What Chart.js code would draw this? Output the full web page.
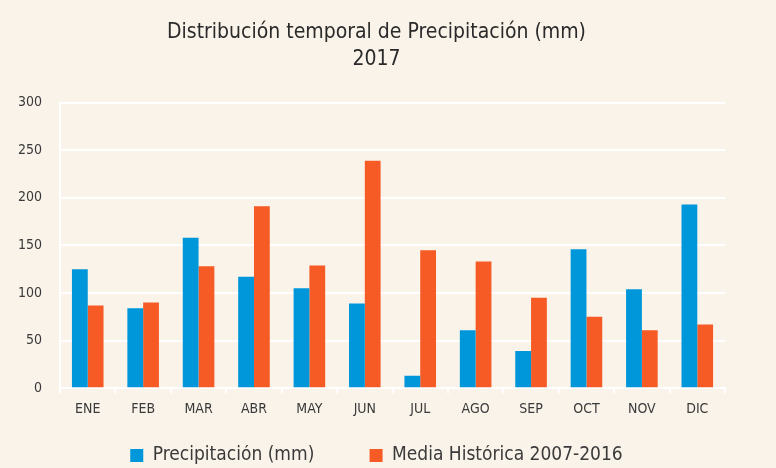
<!DOCTYPE html>
<html>
<head>
<meta charset="utf-8">
<script src="https://cdn.jsdelivr.net/npm/chart.js@4"></script>
<style>
  html, body { margin: 0; padding: 0; background: #faf3ea; }
  #wrap { width: 776px; height: 468px; position: relative; }
</style>
</head>
<body>
<div id="wrap"><canvas id="chart"></canvas></div>
<script>
// Datos
const meses = ['ENE', 'FEB', 'MAR', 'ABR', 'MAY', 'JUN', 'JUL', 'AGO', 'SEP', 'OCT', 'NOV', 'DIC'];
const precipitacion = [125, 84, 158, 117, 105, 89, 13, 61, 39, 146, 104, 193];
const mediaHistorica = [87, 90, 128, 191, 129, 239, 145, 133, 95, 75, 61, 67];
const ticksY = [0, 50, 100, 150, 200, 250, 300];

const fuente = "'Liberation Sans Narrow', 'DejaVu Sans Condensed', sans-serif";
const colorTexto = '#3a3a3a';

new Chart(document.getElementById('chart'), {
  type: 'bar',
  data: {
    labels: meses,
    datasets: [
      {
        label: 'Precipitación (mm)',
        data: precipitacion,
        backgroundColor: '#0096da',
        borderWidth: 0,
        categoryPercentage: 0.57,
        barPercentage: 1.0
      },
      {
        label: 'Media Histórica 2007-2016',
        data: mediaHistorica,
        backgroundColor: '#f65b25',
        borderWidth: 0,
        categoryPercentage: 0.57,
        barPercentage: 1.0
      }
    ]
  },
  options: {
    responsive: true,
    maintainAspectRatio: false,
    animation: false,
    layout: { padding: { left: 0, right: 23, top: 3, bottom: -7 } },
    scales: {
      x: {
        ticks: {
          font: { family: fuente, size: 14 },
          color: colorTexto,
          padding: 8
        },
        grid: {
          drawOnChartArea: false,
          color: '#ffffff',
          lineWidth: 2,
          tickLength: 5
        },
        border: { color: '#ffffff', width: 2 },
        // espacio extra entre las etiquetas y la leyenda
        afterFit: scale => { scale.height += 19; }
      },
      y: {
        min: 0,
        max: 300,
        afterBuildTicks: axis => { axis.ticks = ticksY.map(v => ({ value: v })); },
        ticks: {
          font: { family: fuente, size: 14 },
          color: colorTexto,
          padding: 18
        },
        grid: {
          color: '#ffffff',
          lineWidth: 2,
          tickLength: 0
        },
        border: { color: '#ffffff', width: 2 }
      },
      // eje vacío a la derecha, solo para dejar margen
      margen: {
        position: 'right',
        grid: { display: false },
        border: { display: false },
        ticks: { display: false },
        afterFit: scale => { scale.width = 28; }
      }
    },
    plugins: {
      title: {
        display: true,
        text: ['Distribución temporal de Precipitación (mm)', '2017'],
        font: { family: fuente, size: 21, weight: 'normal', lineHeight: 1.3 },
        color: '#2a2a2a',
        padding: { top: 16, bottom: 29 }
      },
      legend: {
        position: 'bottom',
        labels: {
          font: { family: fuente, size: 19 },
          color: colorTexto,
          boxWidth: 13,
          boxHeight: 13,
          padding: 1,
          generateLabels: chart => {
            const items = Chart.defaults.plugins.legend.labels.generateLabels(chart);
            // separación amplia entre las dos entradas
            items[0].text = items[0].text + '          ';
            return items;
          }
        }
      },
      tooltip: { enabled: false }
    }
  }
});
</script>
</body>
</html>
